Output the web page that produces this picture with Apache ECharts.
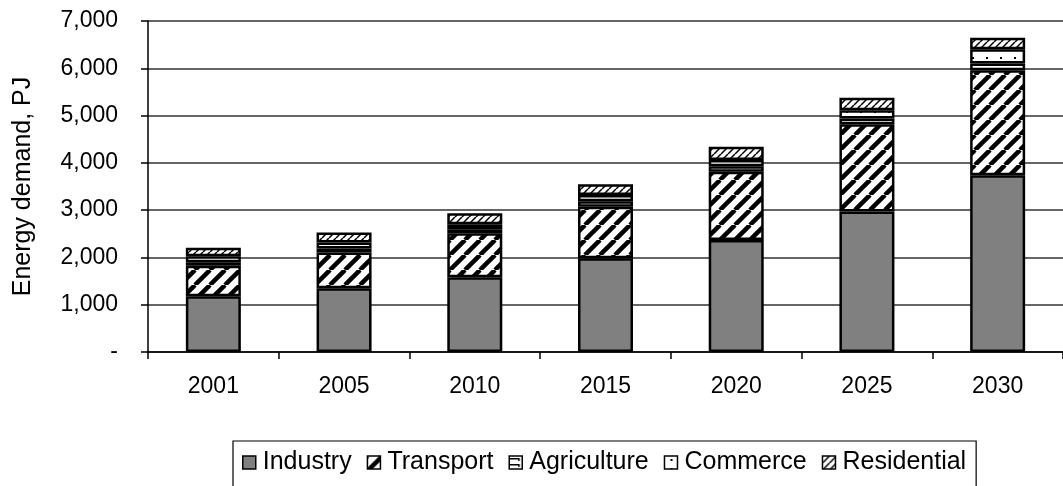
<!DOCTYPE html>
<html>
<head>
<meta charset="utf-8">
<script src="https://cdn.jsdelivr.net/npm/echarts@6/dist/echarts.min.js"></script>
<style>
html,body{margin:0;padding:0;background:#fff;}
#c{width:1063px;height:486px;}
</style>
</head>
<body>
<div id="c"></div>
<script>
const categories = ['2001', '2005', '2010', '2015', '2020', '2025', '2030'];
const industry    = [1180, 1350, 1580, 1980, 2370, 2970, 3740];
const transport   = [645, 755, 930, 1090, 1440, 1845, 2220];
const agriculture = [75, 84, 84, 120, 120, 125, 140];
const commerce    = [125, 128, 106, 130, 130, 175, 300];
const residential = [180, 210, 232, 225, 280, 260, 245];
const seriesNames = ['Industry', 'Transport', 'Agriculture', 'Commerce', 'Residential'];
const yTicks = { min: 0, max: 7000, interval: 1000 };

function makeTile(w, h, draw) {
  const c = document.createElement('canvas');
  c.width = w; c.height = h;
  const g = c.getContext('2d');
  g.fillStyle = '#fff'; g.fillRect(0, 0, w, h);
  g.fillStyle = '#000'; g.strokeStyle = '#000';
  draw(g, w, h);
  return { image: c, repeat: 'repeat' };
}
function diag(w, lw) {
  return makeTile(w, w, (g) => {
    g.lineWidth = lw;
    for (let o = -w; o <= w; o += w) {
      g.beginPath(); g.moveTo(o, w); g.lineTo(o + w, 0); g.stroke();
    }
  });
}
const patTransport = diag(15, 4.5);
const patResidential = diag(7, 1.5);
const patAgriculture = makeTile(14, 6, (g) => {
  g.fillRect(0, 2, 9, 1.5);
  g.fillRect(9, 2, 1.5, 3);
});
const patCommerce = makeTile(14, 9, (g) => {
  g.fillRect(6, 3, 2, 2);
});

const chart = echarts.init(document.getElementById('c'), null, { renderer: 'canvas' });
const font = 'Liberation Sans, Arial, sans-serif';
const border = { borderColor: '#000', borderWidth: 2.5 };
const dataSets = [industry, transport, agriculture, commerce, residential];
const fills = ['#808080', patTransport, patAgriculture, patCommerce, patResidential];

chart.setOption({
  animation: false,
  backgroundColor: '#fff',
  textStyle: { fontFamily: font, color: '#000' },
  grid: { left: 148, right: -2, top: 21, bottom: 134 },
  legend: {
    left: 233, top: 441,
    padding: [9, 10, 30, 9],
    borderColor: '#000', borderWidth: 1.2,
    icon: 'rect',
    itemWidth: 13, itemHeight: 13, itemGap: 15,
    itemStyle: { borderColor: '#000', borderWidth: 1.5 },
    textStyle: { fontSize: 25, color: '#000', fontFamily: font, padding: [0, 0, 0, 2] },
    data: seriesNames
  },
  xAxis: {
    type: 'category',
    data: categories,
    axisLine: { lineStyle: { color: '#000', width: 1.5 } },
    axisTick: { show: true, length: 7, alignWithLabel: false, lineStyle: { color: '#000', width: 1.5 } },
    axisLabel: { fontSize: 23, color: '#000', margin: 23, fontFamily: font }
  },
  yAxis: {
    type: 'value',
    min: yTicks.min, max: yTicks.max, interval: yTicks.interval,
    name: 'Energy demand, PJ',
    nameLocation: 'middle',
    nameGap: 112,
    nameTextStyle: { fontSize: 25, color: '#000', fontFamily: font },
    axisLine: { show: true, lineStyle: { color: '#000', width: 1.5 } },
    axisTick: { show: true, length: 7, lineStyle: { color: '#000', width: 1.5 } },
    axisLabel: {
      fontSize: 23, color: '#000', margin: 30, fontFamily: font,
      formatter: (v) => v === 0 ? '-' : v.toLocaleString('en-US')
    },
    splitLine: { show: true, lineStyle: { color: '#333', width: 1.5 } }
  },
  series: seriesNames.map((n, i) => ({
    name: n,
    type: 'bar',
    stack: 'total',
    barWidth: 55,
    data: dataSets[i],
    itemStyle: Object.assign({ color: fills[i] }, border)
  }))
});
</script>
</body>
</html>
